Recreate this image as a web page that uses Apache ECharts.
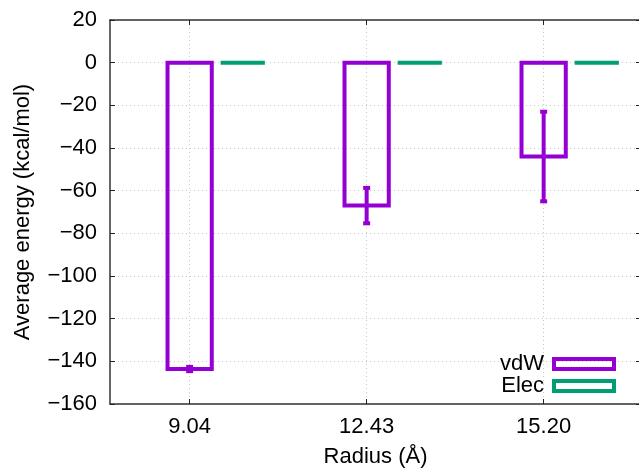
<!DOCTYPE html>
<html>
<head>
<meta charset="utf-8">
<script src="https://cdn.jsdelivr.net/npm/echarts@6/dist/echarts.min.js"></script>
<style>
  html, body { margin: 0; padding: 0; background: #fff; }
  #chart { width: 639px; height: 471px; }
</style>
</head>
<body>
<div id="chart"></div>
<script>
// Shell radii (Å) used as the category labels
const radii = ['9.04', '12.43', '15.20'];
// Average interaction energies (kcal/mol) per shell
const vdwEnergy = [-143.6, -67.0, -44.0];
const vdwError = [1.0, 8.3, 21.0];
const elecEnergy = [0, 0, 0];
// Y-axis tick spacing and range
const yTicks = { min: -160, max: 20, step: 20 };

const PURPLE = '#9400d3';
const GREEN = '#009e73';
const FONT = 'Liberation Sans, Arial, Helvetica, sans-serif';
const BOX_WIDTH = 0.25;
const ELEC_OFFSET = 0.3;

const positions = radii.map((_, i) => i);

function boxRenderer(offset, color) {
  return function (params, api) {
    const x = api.value(0) + offset;
    const v = api.value(1);
    const p0 = api.coord([x - BOX_WIDTH / 2, 0]);
    const p1 = api.coord([x + BOX_WIDTH / 2, v]);
    return {
      type: 'rect',
      shape: {
        x: p0[0],
        y: Math.min(p0[1], p1[1]),
        width: p1[0] - p0[0],
        height: Math.abs(p1[1] - p0[1])
      },
      style: { fill: 'none', stroke: color, lineWidth: 4 }
    };
  };
}

function errorRenderer(params, api) {
  const x = api.value(0);
  const lo = api.coord([x, api.value(1)]);
  const hi = api.coord([x, api.value(2)]);
  const cap = 3.5;
  const st = { stroke: PURPLE, lineWidth: 4 };
  return {
    type: 'group',
    children: [
      { type: 'line', shape: { x1: lo[0], y1: lo[1], x2: hi[0], y2: hi[1] }, style: st },
      { type: 'line', shape: { x1: lo[0] - cap, y1: lo[1], x2: lo[0] + cap, y2: lo[1] }, style: st },
      { type: 'line', shape: { x1: hi[0] - cap, y1: hi[1], x2: hi[0] + cap, y2: hi[1] }, style: st }
    ]
  };
}

const frameLine = { show: true, onZero: false, lineStyle: { color: '#333', width: 1.5 } };
const gridLine = { show: true, lineStyle: { color: '#c8c8c8', width: 1, type: [1, 3] } };
const tickIn = (custom) => Object.assign({ show: true, inside: true, length: 5, lineStyle: { color: '#222', width: 1 } }, custom ? { customValues: custom } : {});

const chart = echarts.init(document.getElementById('chart'), null, { renderer: 'canvas' });
chart.setOption({
  animation: false,
  backgroundColor: '#ffffff',
  textStyle: { fontFamily: FONT },
  grid: { left: 110, top: 20, width: 531, height: 384, containLabel: false, outerBoundsMode: 'none' },
  xAxis: [
    {
      type: 'value', min: -0.45, max: 2.55, position: 'bottom',
      axisLine: frameLine,
      axisTick: tickIn(positions),
      splitLine: gridLine,
      axisLabel: {
        customValues: positions, margin: 12, color: '#000', fontSize: 22, fontFamily: FONT,
        formatter: (v) => radii[Math.round(v)]
      },
      name: 'Radius (Å)', nameLocation: 'middle', nameGap: 42,
      nameTextStyle: { color: '#000', fontSize: 22, fontFamily: FONT }
    },
    {
      type: 'value', min: -0.45, max: 2.55, position: 'top',
      axisLine: frameLine,
      axisTick: tickIn(positions),
      axisLabel: { show: false },
      splitLine: { show: false }
    }
  ],
  yAxis: [
    {
      type: 'value', min: yTicks.min, max: yTicks.max, interval: yTicks.step, position: 'left',
      axisLine: frameLine,
      axisTick: tickIn(),
      splitLine: gridLine,
      axisLabel: {
        margin: 13, color: '#000', fontSize: 22, fontFamily: FONT,
        formatter: (v) => String(v).replace('-', '\u2212')
      },
      name: 'Average energy (kcal/mol)', nameLocation: 'middle', nameGap: 76,
      nameTextStyle: { color: '#000', fontSize: 22, fontFamily: FONT }
    },
    {
      type: 'value', min: yTicks.min, max: yTicks.max, interval: yTicks.step, position: 'right',
      axisLine: frameLine,
      axisTick: tickIn(),
      axisLabel: { show: false },
      splitLine: { show: false }
    }
  ],
  legend: {
    orient: 'vertical', align: 'right', right: 18, top: 348,
    itemWidth: 60, itemHeight: 10, itemGap: 0,
    textStyle: { color: '#000', fontSize: 22, fontFamily: FONT, lineHeight: 22, padding: [0, 5, 0, 0] },
    data: [
      { name: 'vdW', icon: 'rect', itemStyle: { color: 'rgba(0,0,0,0)', borderColor: PURPLE, borderWidth: 4 } },
      { name: 'Elec', icon: 'rect', itemStyle: { color: 'rgba(0,0,0,0)', borderColor: GREEN, borderWidth: 4 } }
    ]
  },
  series: [
    {
      name: 'vdW', type: 'custom', clip: false, z: 3,
      itemStyle: { color: PURPLE },
      renderItem: boxRenderer(0, PURPLE),
      data: positions.map((x, i) => [x, vdwEnergy[i]])
    },
    {
      name: 'Elec', type: 'custom', clip: false, z: 3,
      itemStyle: { color: GREEN },
      renderItem: boxRenderer(ELEC_OFFSET, GREEN),
      data: positions.map((x, i) => [x, elecEnergy[i]])
    },
    {
      name: 'vdW error', type: 'custom', clip: false, z: 4,
      itemStyle: { color: PURPLE },
      renderItem: errorRenderer,
      data: positions.map((x, i) => [x, vdwEnergy[i] - vdwError[i], vdwEnergy[i] + vdwError[i]])
    }
  ]
});
</script>
</body>
</html>
